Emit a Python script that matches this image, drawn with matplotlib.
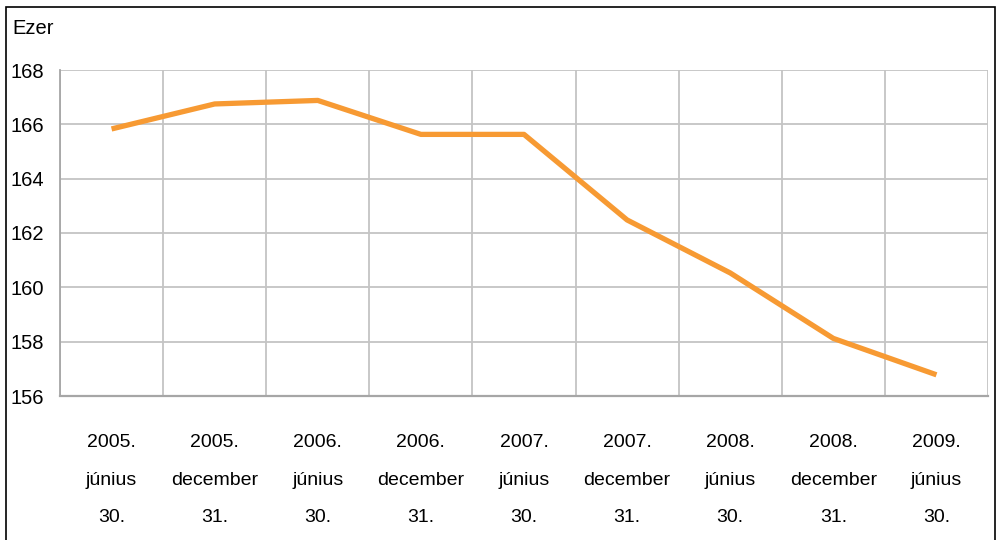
import numpy as np
import matplotlib
matplotlib.use("Agg")
from matplotlib import pyplot as plt
from matplotlib.patches import Rectangle

plt.rcParams['font.family'] = ['Liberation Sans Narrow', 'Liberation Sans', 'DejaVu Sans']

# adatok
labels = ["2005.\njúnius\n30.", "2005.\ndecember\n31.", "2006.\njúnius\n30.",
          "2006.\ndecember\n31.", "2007.\njúnius\n30.", "2007.\ndecember\n31.",
          "2008.\njúnius\n30.", "2008.\ndecember\n31.", "2009.\njúnius\n30."]
values = [165.83, 166.75, 166.88, 165.63, 165.63, 162.48, 160.53, 158.12, 156.78]
yticks = [156, 158, 160, 162, 164, 166, 168]

fig = plt.figure(figsize=(9.98, 5.4), dpi=100)
ax = fig.add_axes([60/998, 1-396/540, (988-60)/998, (396-70)/540])

x = np.arange(len(values))
ax.plot(x, values, color='#F79A33', lw=3.8, solid_capstyle='butt', solid_joinstyle='round', zorder=3)

ax.set_xlim(-0.5, len(values)-0.5)
ax.set_ylim(156, 168)
ax.set_yticks(yticks)
ax.set_xticks(x)
ax.set_xticklabels(labels, fontsize=14, linespacing=2.58)
ax.set_xticks(np.arange(len(values)+1)-0.5, minor=True)
ax.tick_params(axis='x', which='both', length=0, pad=27.5)
ax.tick_params(axis='y', length=0, pad=36, labelsize=14.5)
for lab in ax.get_yticklabels():
    lab.set_ha('left')

ax.grid(True, axis='y', color='#C4C4C4', lw=1.3)
ax.grid(True, axis='x', which='minor', color='#C4C4C4', lw=1.3)
ax.set_axisbelow(True)
for s in ['top', 'right']:
    ax.spines[s].set_visible(False)
ax.spines['left'].set_color('#A6A6A6')
ax.spines['bottom'].set_color('#A6A6A6')
ax.spines['left'].set_linewidth(1.3)
ax.spines['bottom'].set_linewidth(1.6)

fig.text(12/998, 1-29/540, "Ezer", fontsize=14.5, ha='left', va='center')

# keret
fig.patches.append(Rectangle((6/998, -0.02), 989/998, 1.02-7/540, transform=fig.transFigure,
                             fill=False, ec='black', lw=1.2))

plt.savefig('out.png', dpi=100)
